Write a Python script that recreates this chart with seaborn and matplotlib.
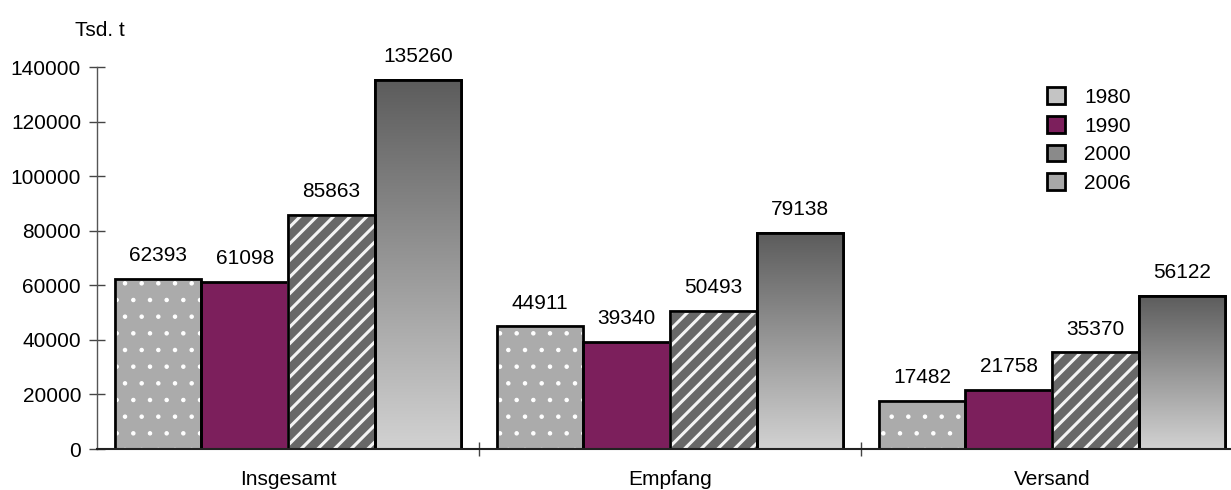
import numpy as np
import pandas as pd
import matplotlib
matplotlib.use("Agg")
import matplotlib.pyplot as plt
from matplotlib.patches import Patch, Rectangle
from matplotlib.ticker import FuncFormatter, FixedLocator
import seaborn as sns

# === Daten ===
categories = ["Insgesamt", "Empfang", "Versand"]
years = ["1980", "1990", "2000", "2006"]
v1980 = [62393, 44911, 17482]
v1990 = [61098, 39340, 21758]
v2000 = [85863, 50493, 35370]
v2006 = [135260, 79138, 56122]

df = pd.DataFrame({
    "Kategorie": categories * 4,
    "Jahr": [y for y in years for _ in categories],
    "Wert": v1980 + v1990 + v2000 + v2006,
})

sns.set_theme(style="white")
plt.rcParams["font.family"] = ["Liberation Sans", "DejaVu Sans"]
plt.rcParams["text.color"] = "black"
plt.rcParams["xtick.color"] = "black"
plt.rcParams["ytick.color"] = "black"
plt.rcParams["hatch.linewidth"] = 2.2

fig = plt.figure(figsize=(12.31, 4.90), dpi=100)
ax = fig.add_axes([97 / 1231, 41 / 490, 1146 / 1231, 382 / 490])

palette = {"1980": "#ababab", "1990": "#7c1f5c", "2000": "#686868", "2006": "#a0a0a0"}
sns.barplot(data=df, x="Kategorie", y="Wert", hue="Jahr", palette=palette,
            width=0.908, edgecolor="black", linewidth=2, saturation=1,
            legend=False, ax=ax)

# === Muster / Verlauf ===
grad = np.linspace(0, 1, 256).reshape(-1, 1)
gcmap = matplotlib.colors.LinearSegmentedColormap.from_list("g", ["#d2d2d2", "#5c5c5c"])
for cont, yr in zip(ax.containers, years):
    for b in cont:
        x0, w, h = b.get_x(), b.get_width(), b.get_height()
        if yr == "1980":
            b.set_edgecolor("white")
            b.set_hatch(".")
            try:
                b.set_hatch_linewidth(0.8)
            except AttributeError:
                pass
        elif yr == "2000":
            b.set_edgecolor("#f4f4f4")
            b.set_hatch("//")
        elif yr == "2006":
            im = ax.imshow(grad, extent=(x0, x0 + w, 0, h), origin="lower",
                           cmap=gcmap, aspect="auto", zorder=b.get_zorder())
            im.set_clip_path(b)
            b.set_facecolor("none")
        if yr != "1990":
            ax.add_patch(Rectangle((x0, 0), w, h, fill=False, edgecolor="black",
                                   linewidth=2, zorder=b.get_zorder() + 0.1))
    ax.bar_label(cont, labels=[str(int(v)) for v in cont.datavalues],
                 padding=10, fontsize=15, color="black", clip_on=False)

ax.set_xlim(-0.5, 2.5)
ax.set_ylim(0, 140000)

# === Achsen ===
for s in ["top", "right"]:
    ax.spines[s].set_visible(False)
ax.spines["left"].set_color("#555555")
ax.spines["left"].set_linewidth(1)
ax.spines["bottom"].set_color("#222222")
ax.spines["bottom"].set_linewidth(1.5)

ax.set_yticks(range(0, 140001, 20000))
ax.yaxis.set_major_formatter(FuncFormatter(lambda v, p: f"{int(v)}"))
ax.tick_params(axis="y", direction="inout", length=11, width=1, color="#444444",
               labelsize=15, labelcolor="black", pad=6, left=True)
ax.tick_params(axis="x", which="major", length=0, labelsize=15, labelcolor="black",
               pad=15, bottom=True)
ax.xaxis.set_minor_locator(FixedLocator([0.5, 1.5]))
ax.tick_params(axis="x", which="minor", direction="inout", length=10, width=1,
               color="#444444", bottom=True)
ax.set_xlabel("")
ax.set_ylabel("")

fig.text(75 / 1231, 1 - 30 / 490, "Tsd. t", fontsize=15, va="center", ha="left")

# === Legende ===
handles = [
    Patch(facecolor="#c4c4c4", edgecolor="black", linewidth=2),
    Patch(facecolor="#7c1f5c", edgecolor="black", linewidth=2),
    Patch(facecolor="#8a8a8a", edgecolor="black", linewidth=2),
    Patch(facecolor="#a8a8a8", edgecolor="black", linewidth=2),
]
fig.legend(handles, years, loc="upper left", bbox_to_anchor=(1039 / 1231, 1 - 79 / 490),
           frameon=False, fontsize=15, handlelength=0.87, handleheight=0.87,
           handletextpad=0.9, labelspacing=0.43, borderaxespad=0)

plt.savefig("out.png", dpi=100)
